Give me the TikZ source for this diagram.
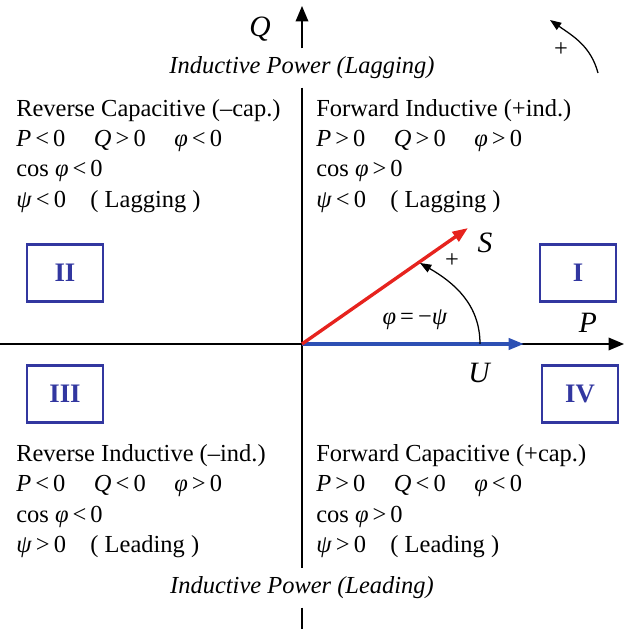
\documentclass[tikz,border=0pt]{standalone}
\usepackage{fontspec}
\setmainfont{Liberation Serif}
\usetikzlibrary{arrows.meta}
\definecolor{quadblue}{RGB}{50,55,160}
\definecolor{vecred}{RGB}{230,35,30}
\definecolor{vecblue}{RGB}{45,80,180}
\newcommand{\vi}[1]{\textit{#1}}

\begin{document}
\fontsize{17.4}{21.6}\selectfont
\begin{tikzpicture}[x=0.025cm,y=0.025cm,
    axis/.style={line width=1pt},
    axisarrow/.style={line width=1pt,-{Triangle[length=11pt,width=9pt]}},
    vec/.style={line width=2.4pt,-{Triangle[length=11pt,width=8pt]}},
    quad/.style={draw=quadblue,line width=2pt,minimum width=1.9cm,minimum height=1.43cm,text=quadblue,font=\fontsize{19}{22}\selectfont\bfseries},
    info/.style={anchor=north west,align=left,inner sep=0pt},
    lbl/.style={font=\itshape},
    var/.style={font=\fontsize{21}{24}\selectfont\itshape}]
\useasboundingbox (0,0) rectangle (624,629);

% axes
\coordinate (O) at (302,285);
\coordinate (qtop) at (302,623);
\coordinate (bot) at (302,0);
\coordinate (left) at (0,285);
\coordinate (right) at (624,285);
\node[lbl] (lag) at (302,561) {Inductive Power (Lagging)};
\node[lbl] (lead) at (302,41) {Inductive Power (Leading)};
\node[var] (q) at (260,600) {Q};
\node[var] (p) at (588,306) {P};
\draw[axisarrow] (lag.north) -- (qtop);
\draw[axis] (lag.south) -- (lead.north);
\draw[axis] (lead.south) -- (bot);
\draw[axisarrow] (left) -- (right);

% quadrant text
\node[info] (tl) at (16,530) {Reverse Capacitive (–cap.)\\
  \vi{P}\,<\,0\quad\,\vi{Q}\,>\,0\quad\,\vi{φ}\,<\,0\\
  cos \vi{φ}\,<\,0\\
  \vi{ψ}\,<\,0\quad ( Lagging )};
\node[info] (tr) at (316,530) {Forward Inductive (+ind.)\\
  \vi{P}\,>\,0\quad\,\vi{Q}\,>\,0\quad\,\vi{φ}\,>\,0\\
  cos \vi{φ}\,>\,0\\
  \vi{ψ}\,<\,0\quad ( Lagging )};
\node[info] (bl) at (16,185) {Reverse Inductive (–ind.)\\
  \vi{P}\,<\,0\quad\,\vi{Q}\,<\,0\quad\,\vi{φ}\,>\,0\\
  cos \vi{φ}\,<\,0\\
  \vi{ψ}\,>\,0\quad ( Leading )};
\node[info] (br) at (316,185) {Forward Capacitive (+cap.)\\
  \vi{P}\,>\,0\quad\,\vi{Q}\,<\,0\quad\,\vi{φ}\,<\,0\\
  cos \vi{φ}\,>\,0\\
  \vi{ψ}\,>\,0\quad ( Leading )};

% quadrant boxes
\node[quad] (q1) at (578,356) {I};
\node[quad] (q2) at (65,356) {II};
\node[quad] (q3) at (65,235) {III};
\node[quad] (q4) at (580,235) {IV};

% vectors
\coordinate (uend) at (524,285);
\coordinate (send) at (468,401);
\draw[vec,vecblue] (O) -- (uend);
\draw[vec,vecred] (O) -- (send);
\node[var] (s) at (485,386) {S};
\node[var] (u) at (479,256) {U};

% angle
\coordinate (arcstart) at (480,285);
\coordinate (arcend) at (420,366);
\draw[line width=0.9pt,-{Triangle[length=8pt,width=6pt]}] (arcstart) to[out=90,in=-30] (arcend);
\node (plus) at (452,368) {+};
\node (ang) at (415,309) {\vi{φ}\,=\,−\vi{ψ}};

% sense of rotation
\coordinate (rotstart) at (598,556);
\coordinate (rotend) at (550,609);
\draw[line width=0.9pt,-{Triangle[length=8pt,width=6pt]}] (rotstart) to[out=105,in=-35] (rotend);
\node (rplus) at (561,579) {+};
\end{tikzpicture}
\end{document}
